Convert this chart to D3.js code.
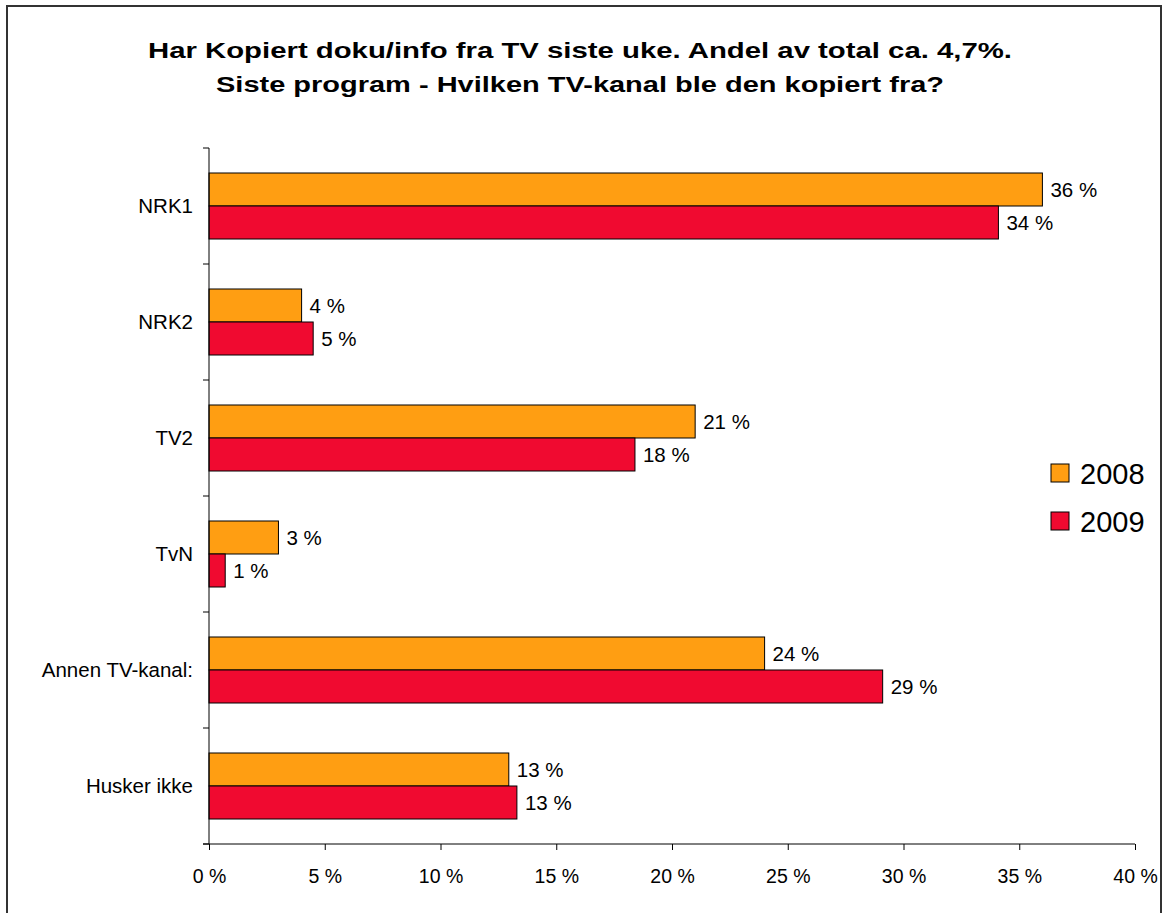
<!DOCTYPE html>
<html>
<head>
<meta charset="utf-8">
<script src="https://cdn.jsdelivr.net/npm/d3@7"></script>
<style>
  body { margin: 0; background: #fff; }
  text { font-family: "Liberation Sans", Arial, sans-serif; fill: #000; }
</style>
</head>
<body>
<div id="chart"></div>
<script>
// chart data
var categories = ["NRK1", "NRK2", "TV2", "TvN", "Annen TV-kanal:", "Husker ikke"];
var years = ["2008", "2009"];
var values2008 = [36.0, 4.0, 21.0, 3.0, 24.0, 12.95];
var values2009 = [34.1, 4.5, 18.4, 0.7, 29.1, 13.3];
var xTicks = [0, 5, 10, 15, 20, 25, 30, 35, 40];
var titleLines = [
    "Har Kopiert doku/info fra TV siste uke. Andel av total ca. 4,7%.",
    "Siste program - Hvilken TV-kanal ble den kopiert fra?"
];
var colors = ["#ff9e12", "#f00a30"];

// svg size
var svgWidth = 1162;
var svgHeight = 913;

var margins = { top: 148, right: 27, bottom: 69, left: 209 };
var width = 1135 - margins.left;
var height = 844 - margins.top;

var svg = d3.select("#chart")
    .append("svg")
    .attr("width", svgWidth)
    .attr("height", svgHeight);

// outer frame
svg.append("rect")
    .attr("x", 7)
    .attr("y", 6)
    .attr("width", 1154)
    .attr("height", 930)
    .attr("fill", "none")
    .attr("stroke", "#333")
    .attr("stroke-width", 2);

// title
svg.selectAll(".title")
    .data(titleLines)
    .enter()
    .append("text")
    .attr("class", "title")
    .attr("x", 580)
    .attr("y", (d, i) => 58 + i * 34)
    .attr("text-anchor", "middle")
    .style("font-size", "22px")
    .style("font-weight", "bold")
    .attr("textLength", (d, i) => i === 0 ? 864 : 728)
    .attr("lengthAdjust", "spacingAndGlyphs")
    .text(d => d);

var chartGroup = svg.append("g")
    .attr("transform", `translate(${margins.left}, ${margins.top})`);

// scales
var xScale = d3.scaleLinear()
    .domain([0, 40])
    .range([0, width]);

var yScale = d3.scaleBand()
    .domain(categories)
    .range([0, height])
    .paddingInner(0.431)
    .paddingOuter(0.2155);

var subScale = d3.scaleBand()
    .domain(years)
    .range([0, yScale.bandwidth()]);

// data rows
var rows = categories.map((c, i) => ({ cat: c, vals: [values2008[i], values2009[i]] }));

var groups = chartGroup.selectAll(".cat")
    .data(rows)
    .enter()
    .append("g")
    .attr("class", "cat")
    .attr("transform", d => `translate(0, ${yScale(d.cat)})`);

groups.selectAll("rect")
    .data(d => d.vals.map((v, j) => ({ year: years[j], value: v, color: colors[j] })))
    .enter()
    .append("rect")
    .attr("x", 0)
    .attr("y", d => subScale(d.year))
    .attr("width", d => xScale(d.value))
    .attr("height", subScale.bandwidth())
    .attr("fill", d => d.color)
    .attr("stroke", "#000")
    .attr("stroke-width", 1);

groups.selectAll(".val")
    .data(d => d.vals.map((v, j) => ({ year: years[j], value: v })))
    .enter()
    .append("text")
    .attr("class", "val")
    .attr("x", d => xScale(d.value) + 8)
    .attr("y", d => subScale(d.year) + subScale.bandwidth() / 2)
    .attr("dy", "0.36em")
    .style("font-size", "20.5px")
    .text(d => Math.round(d.value) + " %");

// axes
var bottomAxis = d3.axisBottom(xScale)
    .tickValues(xTicks)
    .tickSize(6)
    .tickPadding(19)
    .tickFormat(d => d + " %");

var xAxis = chartGroup.append("g")
    .attr("transform", `translate(0, ${height})`)
    .call(bottomAxis);

xAxis.select(".domain").attr("d", `M-6,0H${width}`).attr("stroke", "#000");
xAxis.selectAll("line").attr("stroke", "#000");
xAxis.selectAll("text")
    .style("font-size", "19.5px")
    .style("font-family", "Liberation Sans, Arial, sans-serif");

// y axis line and ticks between categories
chartGroup.append("line")
    .attr("x1", 0).attr("x2", 0)
    .attr("y1", 0).attr("y2", height)
    .attr("stroke", "#000");

var boundaries = categories.map(c => yScale(c) - yScale.step() * yScale.paddingOuter());
boundaries.push(height);

chartGroup.selectAll(".ytick")
    .data(boundaries)
    .enter()
    .append("line")
    .attr("class", "ytick")
    .attr("x1", -6).attr("x2", 0)
    .attr("y1", d => d).attr("y2", d => d)
    .attr("stroke", "#000");

chartGroup.selectAll(".catLabel")
    .data(categories)
    .enter()
    .append("text")
    .attr("class", "catLabel")
    .attr("x", -16)
    .attr("y", d => yScale(d) + yScale.bandwidth() / 2)
    .attr("dy", "0.36em")
    .attr("text-anchor", "end")
    .style("font-size", "20.5px")
    .text(d => d);

// legend
var legend = svg.selectAll(".legend")
    .data(years)
    .enter()
    .append("g")
    .attr("class", "legend")
    .attr("transform", (d, i) => `translate(1051, ${464 + i * 48})`);

legend.append("rect")
    .attr("width", 18)
    .attr("height", 18)
    .attr("fill", (d, i) => colors[i])
    .attr("stroke", "#000");

legend.append("text")
    .attr("x", 29)
    .attr("y", 20)
    .style("font-size", "29px")
    .text(d => d);
</script>
</body>
</html>
